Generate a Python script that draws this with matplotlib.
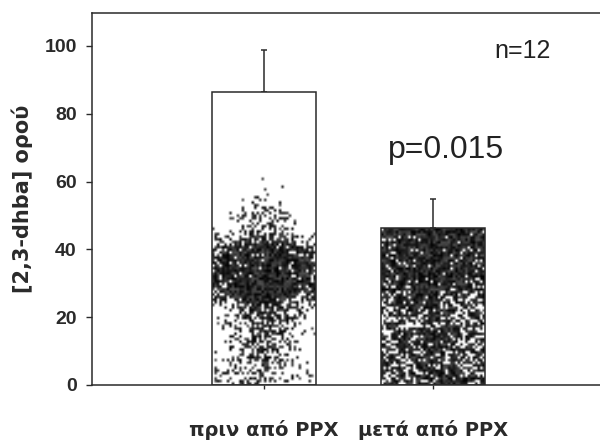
import numpy as np
import matplotlib
matplotlib.use("Agg")
import matplotlib.pyplot as plt
from matplotlib.patches import Rectangle

plt.rcParams['font.family'] = ['Liberation Sans', 'DejaVu Sans']

categories = ["πριν από PPX", "μετά από PPX"]
means = [86.5, 46.3]
errors_up = [12.2, 8.6]
y_ticks = [0, 20, 40, 60, 80, 100]
y_label = "[2,3-dhba] ορού"
n_text = "n=12"
p_text = "p=0.015"

fig = plt.figure(figsize=(6.0, 4.41), dpi=100)
ax = fig.add_axes([0.153, 0.127, 0.847, 0.8435])

x = np.arange(len(categories))
width = 0.615
bars_fill = ax.bar(x, means, width=width, color="white", linewidth=0, zorder=2)
bars = ax.bar(x, means, width=width, facecolor="none", edgecolor="#2a2a2a",
              linewidth=1.1, zorder=3)
ax.errorbar(x, means, yerr=[[0] * len(means), errors_up], fmt="none",
            ecolor="#2a2a2a", elinewidth=1.1, capsize=2.5, capthick=1.1,
            zorder=1)

# stippled grey fill inside each bar
rng = np.random.default_rng(11)


def smooth_step(z, k=1.5):
    return 1.0 / (1.0 + np.exp(-z / k))


def density_before(u, v):
    band = 0.97 * smooth_step(v - 26, 1.5) * smooth_step(41 - v, 1.5)
    band *= 1 - 0.2 * (np.abs(u) / 0.5) ** 3
    t = np.clip((63 - v) / 22, 0, 1)
    sig_up = 0.08 + 0.3 * t
    upper = 0.6 * t * np.exp(-(u / sig_up) ** 2) * smooth_step(v - 40, 1.0)
    sig_lo = 0.24 + 0.2 * np.clip((v - 12) / 15, 0, 1)
    mid = 0.7 * np.exp(-(u / sig_lo) ** 2) * smooth_step(28 - v, 1.2) * smooth_step(v - 9, 2.0)
    bottom = 0.38 * smooth_step(11 - v, 2.0) * np.exp(-(u / 0.45) ** 2)
    return np.clip(band + upper + mid + bottom, 0, 1)


def density_after(u, v):
    base = 0.7 + 0.15 * np.exp(-(u / 0.3) ** 2)
    base = base + 0.15 * smooth_step(v - 28, 2.0)
    base = base - 0.15 * smooth_step(v - 8, 2.0) * smooth_step(26 - v, 2.0) * (np.abs(u) / 0.5)
    return np.clip(base, 0, 0.97)


for rect, dens in zip(bars_fill.patches, [density_before, density_after]):
    x0, w, h = rect.get_x(), rect.get_width(), rect.get_height()
    ny, nx = int(h * 1.3), 42
    vv = np.linspace(h, 0, ny)[:, None] * np.ones((1, nx))
    uu = np.linspace(-0.5, 0.5, nx)[None, :] * np.ones((ny, 1))
    d = dens(uu, vv)
    img = (rng.random((ny, nx)) < d).astype(float) * rng.uniform(0.75, 1.0, (ny, nx))
    im = ax.imshow(img, cmap="Greys", vmin=0, vmax=1, extent=[x0, x0 + w, 0, h],
                   aspect="auto", interpolation="bilinear", zorder=2.5)
    im.set_clip_path(Rectangle((x0, 0), w, h, transform=ax.transData))

ax.set_xlim(-1.018, 1.988)
ax.set_ylim(0, 109.7)
ax.set_yticks(y_ticks)
ax.set_xticks(x)
ax.set_xticklabels(categories, fontsize=14, fontweight="bold",
                   family=['DejaVu Sans'])
ax.tick_params(axis="x", length=3, width=1, pad=22, colors="#2a2a2a")
ax.tick_params(axis="y", length=4, width=1, pad=6.8, labelsize=14, colors="#2a2a2a")
for lab in ax.get_yticklabels():
    lab.set_fontweight("bold")
ax.set_ylabel(y_label, fontsize=15, fontweight="bold", family=['DejaVu Sans'],
              labelpad=8, color="#2a2a2a")

ax.spines["right"].set_visible(False)
for s in ["left", "top", "bottom"]:
    ax.spines[s].set_linewidth(1.1)
    ax.spines[s].set_color("#2a2a2a")

ax.text(1.527, 96.5, n_text, fontsize=18, ha="center", va="baseline", color="#222222")
ax.text(1.077, 67.0, p_text, fontsize=23, ha="center", va="baseline", color="#222222")

fig.savefig("out.png", dpi=100)
